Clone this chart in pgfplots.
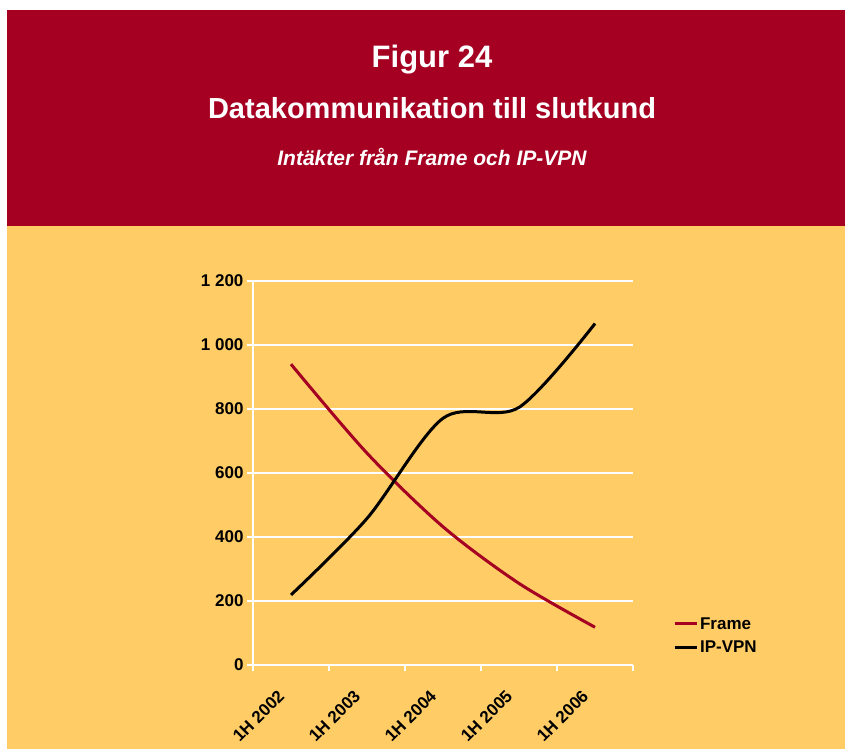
\documentclass[border=0pt]{standalone}
\usepackage{fontspec}
\setmainfont{Liberation Sans}
\usepackage{pgfplots}
\pgfplotsset{compat=1.18}
\definecolor{bandred}{RGB}{165,0,33}
\definecolor{bgyellow}{RGB}{255,204,102}

\begin{document}
\begin{tikzpicture}[x=1pt,y=1pt]
% page background, red title band, yellow plot area
\fill[white] (0,0) rectangle (845,749);
\fill[bgyellow] (7,0) rectangle (845,523);
\fill[bandred] (7,523) rectangle (845,739);
\node[anchor=base, text=white, font=\fontsize{31}{31}\selectfont\bfseries] at (432,681) {Figur 24};
\node[anchor=base, text=white, font=\fontsize{29}{29}\selectfont\bfseries] at (432,630) {Datakommunikation till slutkund};
\node[anchor=base, text=white, font=\fontsize{21}{21}\selectfont\bfseries\itshape] at (432,583) {Intäkter från Frame och IP-VPN};

\begin{axis}[
    at={(253pt,84pt)}, anchor=south west,
    scale only axis, width=380pt, height=384pt,
    xmin=0, xmax=5, ymin=0, ymax=1200,
    xtick={0,...,5},
    x tick label as interval,
    xticklabels={1H 2002,1H 2003,1H 2004,1H 2005,1H 2006},
    ytick={0,200,...,1200},
    yticklabels={0,200,400,600,800,1 000,1 200},
    ymajorgrids,
    grid style={white, line width=2pt},
    axis x line*=bottom, axis y line*=left,
    axis line style={white, line width=2.5pt, -},
    tick align=outside, major tick length=6pt,
    tick style={white, line width=2pt},
    ticklabel style={font=\fontsize{17}{17}\selectfont\bfseries},
    xticklabel style={xshift=-14pt, yshift=-13pt, rotate=45, anchor=north east},
    legend style={at={(rel axis cs:1.097,0.135)}, anchor=north west,
        draw=none, fill=none, font=\fontsize{17}{17}\selectfont\bfseries,
        row sep=6pt},
    legend cell align=left,
    legend image code/.code={\draw[#1] (0pt,0pt) -- (22pt,0pt);},
]
\addplot[bandred, line width=3pt, smooth] coordinates {
(0.5,940) (1.5,662) (2.5,432) (3.5,255) (4.5,118)
};
\addlegendentry{Frame}
\addplot[black, line width=3pt, smooth] coordinates {
(0.5,219) (1.5,458) (2.5,771) (3.5,805) (4.5,1067)
};
\addlegendentry{IP-VPN}
\node[rotate=90, font=\fontsize{17}{17}\selectfont\bfseries] at (rel axis cs:-0.224,0.78) {Miljoner kr};
\end{axis}
\end{tikzpicture}
\end{document}
